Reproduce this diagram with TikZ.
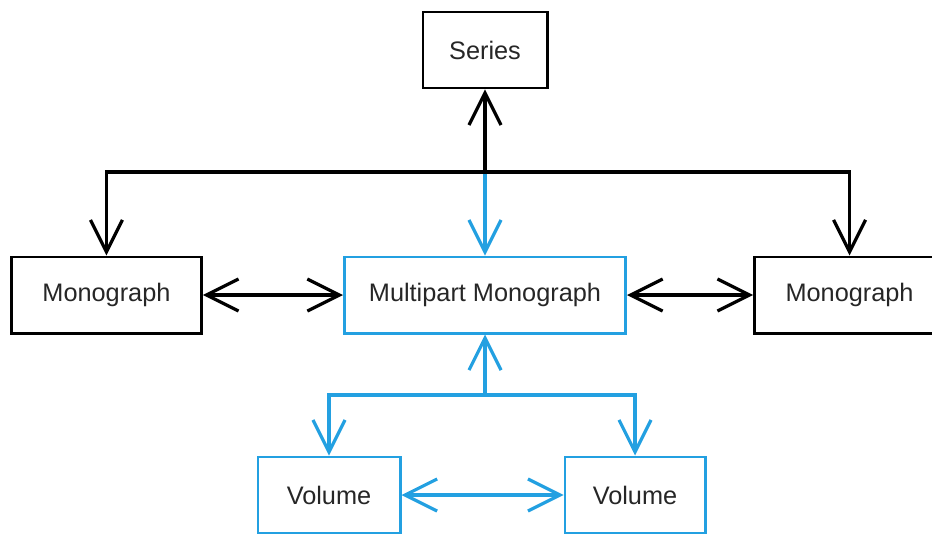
\documentclass[tikz,border=0pt]{standalone}
\usepackage{fontspec}
\setmainfont{Liberation Sans}
\usepackage{tikz}
\usetikzlibrary{positioning, arrows.meta}
\definecolor{partblue}{RGB}{35,160,225}
\tikzstyle{box} = [rectangle, draw=black, line width=2.1pt, text=black!85, minimum height=1.9cm, font=\fontsize{18}{20}\selectfont]
\tikzstyle{partbox} = [box, draw=partblue]
\tikzstyle{arrow} = [line width=2.3pt, -{Straight Barb[length=0.8cm,width=0.8cm]}]
\tikzstyle{twoway} = [line width=2.3pt, {Straight Barb[length=0.8cm,width=0.8cm]}-{Straight Barb[length=0.8cm,width=0.8cm]}]
\tikzstyle{partarrow} = [arrow, draw=partblue]

\begin{document}
\begin{tikzpicture}[x=0.025cm, y=0.025cm]
\useasboundingbox (0,0) rectangle (932,533);
\clip (0,0) rectangle (932,533);
\node (series) [box, minimum width=3.1cm] at (485,483) {Series};
\node (multi) [partbox, minimum width=7.025cm, below=4.15cm of series] {Multipart Monograph};
\node (mono_l) [box, minimum width=4.75cm, left=3.5cm of multi] {Monograph};
\node (mono_r) [box, minimum width=4.75cm, right=3.15cm of multi] {Monograph};
\node (vol_l) [partbox, minimum width=3.55cm] at (329,38) {Volume};
\node (vol_r) [partbox, minimum width=3.5cm] at (635,38) {Volume};
\coordinate (top_level) at (0,361);
\coordinate (bot_level) at (0,138);
\coordinate (top_join) at (series.south |- top_level);
\coordinate (bot_join) at (multi.south |- bot_level);
\draw [partarrow] (top_join) -- (multi);
\draw [arrow] (top_join) -- (series);
\draw [arrow] (top_join) -| (mono_l.north);
\draw [arrow] (top_join) -| (mono_r.north);
\draw [twoway] (mono_l) -- (multi);
\draw [twoway] (multi) -- (mono_r);
\draw [partarrow] (bot_join) -- (multi);
\draw [partarrow] (bot_join) -| (vol_l.north);
\draw [partarrow] (bot_join) -| (vol_r.north);
\draw [twoway, draw=partblue] (vol_l) -- (vol_r);
\end{tikzpicture}
\end{document}
